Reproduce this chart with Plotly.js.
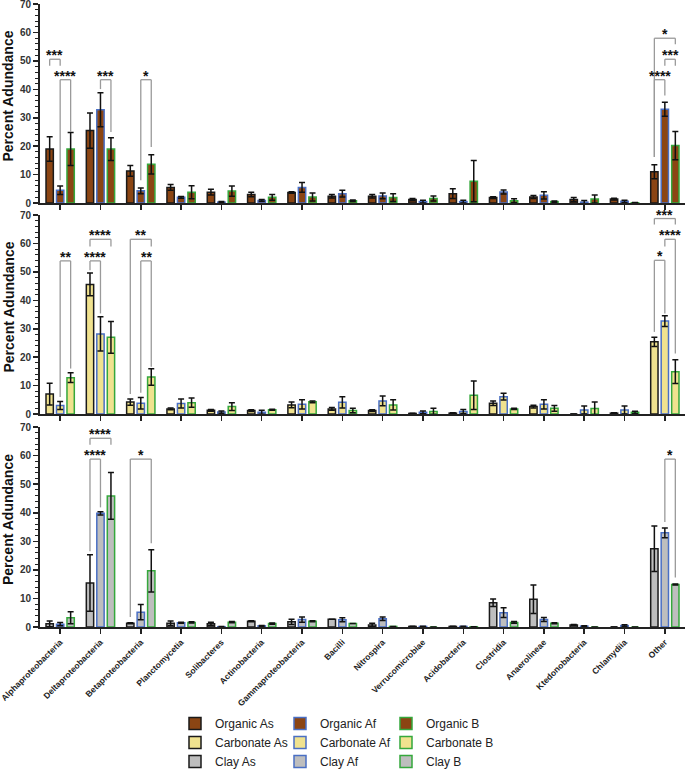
<!DOCTYPE html>
<html>
<head>
<meta charset="utf-8">
<script src="https://cdn.plot.ly/plotly-3.0.1.min.js"></script>
<style>
  body { margin: 0; background: #fff; }
  #chart { width: 685px; height: 771px; }
</style>
</head>
<body>
<div id="chart"></div>
<script>
var categories = ['Alphaproteobacteria', 'Deltaproteobacteria', 'Betaproteobacteria', 'Planctomycetia',
    'Solibacteres', 'Actinobacteria', 'Gammaproteobacteria', 'Bacilli', 'Nitrospira', 'Verrucomicrobiae',
    'Acidobacteria', 'Clostridia', 'Anaerolineae', 'Ktedonobacteria', 'Chlamydiia', 'Other'];

// Organic
var organicAs    = [19, 25.5, 11.3, 5.5, 3.8, 3.0, 3.7, 2.4, 2.4, 1.2, 3.3, 1.9, 2.1, 1.2, 1.4, 11.0];
var organicAsErr = [4.3, 6.2, 1.9, 1.0, 1.0, 0.8, 0.3, 0.6, 0.6, 0.4, 1.7, 0.3, 0.5, 0.7, 0.3, 2.5];
var organicAf    = [4.5, 32.8, 4.3, 2.0, 0.3, 0.9, 5.5, 3.3, 2.5, 0.5, 0.5, 3.9, 2.7, 0.3, 0.6, 33.0];
var organicAfErr = [1.5, 6.0, 1.0, 0.3, 0.2, 0.3, 1.7, 1.2, 1.0, 0.5, 0.5, 0.7, 1.3, 0.6, 0.4, 2.5];
var organicB     = [19, 19, 13.6, 3.8, 4.2, 2.0, 2.1, 0.8, 1.9, 1.6, 7.7, 0.8, 0.5, 1.4, 0.1, 20.2];
var organicBErr  = [5.8, 4.0, 3.4, 2.3, 1.8, 1.0, 1.4, 0.3, 1.4, 0.9, 7.3, 0.7, 0.2, 1.4, 0.1, 5.0];

// Carbonate
var carbonateAs    = [7.0, 45.6, 4.2, 1.8, 1.3, 1.2, 3.2, 1.8, 1.2, 0.2, 0.3, 3.8, 2.6, 0, 0.3, 25.4];
var carbonateAsErr = [3.8, 4.0, 1.1, 0.3, 0.3, 0.3, 1.0, 0.5, 0.3, 0.1, 0.1, 0.8, 0.5, 0, 0.1, 1.6];
var carbonateAf    = [3.0, 28.2, 3.8, 3.7, 0.7, 0.6, 3.4, 4.1, 4.6, 0.6, 0.9, 6.1, 3.4, 1.4, 1.4, 32.7];
var carbonateAfErr = [1.4, 6.0, 2.0, 1.6, 0.4, 0.7, 1.6, 2.0, 1.7, 0.5, 0.7, 1.2, 1.6, 1.4, 1.4, 1.9];
var carbonateB     = [12.8, 27.0, 13.0, 4.0, 2.6, 1.5, 4.3, 1.2, 3.2, 0.9, 6.6, 1.8, 2.0, 1.9, 0.6, 14.9];
var carbonateBErr  = [1.7, 5.6, 2.9, 1.6, 1.4, 0.2, 0.3, 0.8, 1.8, 1.1, 5.0, 0.2, 1.0, 2.3, 0.4, 4.2];

// Clay
var clayAs    = [1.1, 15.4, 1.3, 1.3, 1.1, 2.0, 1.8, 2.7, 0.7, 0.2, 0.2, 8.5, 9.7, 0.7, 0, 27.4];
var clayAsErr = [1.0, 9.9, 0.2, 0.8, 0.6, 0.2, 0.9, 0, 0.6, 0.05, 0.05, 1.3, 5.0, 0.2, 0, 8.0];
var clayAf    = [1.0, 39.8, 5.2, 1.5, 0.1, 0.4, 2.6, 2.5, 2.9, 0.2, 0.2, 5.0, 2.6, 0.3, 0.5, 33.0];
var clayAfErr = [0.6, 0.6, 2.7, 0.2, 0.05, 0.1, 0.9, 0.7, 0.6, 0.05, 0.05, 1.7, 0.7, 0.1, 0.3, 1.7];
var clayB     = [3.2, 45.9, 19.7, 1.6, 1.7, 1.2, 2.0, 1.2, 0.2, 0, 0.1, 1.6, 1.3, 0, 0, 14.9];
var clayBErr  = [2.1, 8.2, 7.4, 0.2, 0.2, 0.2, 0.2, 0, 0, 0, 0, 0.3, 0.2, 0, 0, 0.2];

// significance brackets: [category, bar a, bar b, bracket level, leg a end, leg b end, label]
var sigOrganic = [
    [0, 0, 1, 50.6, 48.3, 48.3, '***'],
    [0, 1, 2, 43.4, 8, 25, '****'],
    [1, 1, 2, 43.4, 40.1, 25, '***'],
    [2, 1, 2, 43.4, 8, 19.7, '*'],
    [15, 0, 2, 58, 16.2, 55.9, '*'],
    [15, 1, 2, 50.6, 48.3, 48.3, '***'],
    [15, 0, 1, 43.4, 16.2, 37.8, '****']
];
var sigCarbonate = [
    [0, 1, 2, 53.9, 6, 16, '**'],
    [1, 0, 1, 53.9, 50.6, 35.4, '****'],
    [1, 0, 2, 61.5, 59, 59, '****'],
    [2, 0, 2, 61.5, 7, 59, '**'],
    [2, 1, 2, 53.9, 7.5, 16.6, '**'],
    [15, 0, 2, 68.8, 66.7, 66.7, '***'],
    [15, 1, 2, 61.5, 59, 21.3, '****'],
    [15, 0, 1, 54.1, 28.9, 35.4, '*']
];
var sigClay = [
    [1, 0, 2, 66.1, 63.8, 63.8, '****'],
    [1, 0, 1, 58.8, 26.5, 41.9, '****'],
    [2, 0, 2, 58.8, 3.5, 29.3, '*'],
    [15, 1, 2, 58.8, 36.8, 17.3, '*']
];

var fillColors = ['#8B4513', '#F0E28F', '#BEBEBE'];
var lineColors = ['#1a1a1a', '#4A6FC4', '#35A83C'];
var soils = ['Organic', 'Carbonate', 'Clay'];
var horizons = ['As', 'Af', 'B'];
var values = [[organicAs, organicAf, organicB], [carbonateAs, carbonateAf, carbonateB], [clayAs, clayAf, clayB]];
var errors = [[organicAsErr, organicAfErr, organicBErr], [carbonateAsErr, carbonateAfErr, carbonateBErr],
    [clayAsErr, clayAfErr, clayBErr]];
var sigs = [sigOrganic, sigCarbonate, sigClay];

var font = 'Arial, "Liberation Sans", sans-serif';
var bargap = 0.22;
var slot = (1 - bargap) / 3;

// pixel layout of the three panels
var W = 685, H = 771;
var marginT = 4, marginB = 144, marginL = 40, marginR = 0;
var plotH = H - marginT - marginB;
var plotW = W - marginL - marginR;
var panelPx = [[4, 203], [215, 414], [427, 627]];

var data = [];
var shapes = [];
var annotations = [];
var layout = {
    width: W,
    height: H,
    margin: {l: marginL, r: marginR, t: marginT, b: marginB, autoexpand: false},
    paper_bgcolor: '#fff',
    plot_bgcolor: '#fff',
    barmode: 'group',
    bargap: bargap,
    bargroupgap: 0.3,
    font: {family: font, color: '#222'},
    showlegend: true
};

for (var p = 0; p < 3; p++) {
    var sfx = p === 0 ? '' : String(p + 1);
    for (var h = 0; h < 3; h++) {
        data.push({
            type: 'bar',
            x: categories,
            y: values[p][h],
            name: soils[p] + ' ' + horizons[h],
            xaxis: 'x' + sfx,
            yaxis: 'y' + sfx,
            legend: h === 0 ? 'legend' : 'legend' + (h + 1),
            marker: {color: fillColors[p], line: {color: lineColors[h], width: 1.5}},
            error_y: {type: 'data', array: errors[p][h], color: '#111', thickness: 1.5, width: 3}
        });
    }

    var pTop = panelPx[p][0], pBot = panelPx[p][1];
    var domain = [(H - marginB - pBot) / plotH, (H - marginB - pTop) / plotH];

    layout['xaxis' + sfx] = {
        domain: [0, 1],
        anchor: 'y' + sfx,
        type: 'category',
        range: [-0.5, 15.5],
        showline: true, linecolor: '#222', linewidth: 2,
        ticks: 'outside', ticklen: 5, tickwidth: 1.5, tickcolor: '#222',
        showticklabels: p === 2,
        tickangle: -45,
        tickfont: {family: font, size: 8.5, color: '#222', weight: 'bold'},
        showgrid: false, zeroline: false, fixedrange: true
    };
    layout['yaxis' + sfx] = {
        domain: domain,
        anchor: 'x' + sfx,
        range: [0, 70.05],
        tickvals: [0, 10, 20, 30, 40, 50, 60, 70],
        ticklabeloverflow: 'allow',
        showline: true, linecolor: '#222', linewidth: 2,
        ticks: 'outside', ticklen: 5, tickwidth: 1.5, tickcolor: '#222',
        minor: {dtick: 2, ticks: 'outside', ticklen: 3, tickwidth: 1, tickcolor: '#222'},
        tickfont: {family: font, size: 10, color: '#333', weight: 'bold'},
        showgrid: false, zeroline: false, fixedrange: true
    };

    // y title, placed a little above the panel centre as in the original
    annotations.push({
        xref: 'paper', yref: 'paper',
        x: (8 - marginL) / plotW, y: (H - marginB - ((pTop + pBot) / 2 - 7)) / plotH,
        xanchor: 'center', yanchor: 'middle', textangle: -90,
        text: 'Percent Adundance', showarrow: false,
        font: {family: font, size: 14, color: '#111', weight: 'bold'}
    });

    // significance brackets
    sigs[p].forEach(function (s) {
        var xa = s[0] + (s[1] - 1) * slot;
        var xb = s[0] + (s[2] - 1) * slot;
        var ln = {color: '#9a9a9a', width: 1.3};
        var ref = {xref: 'x' + sfx, yref: 'y' + sfx, type: 'line', line: ln};
        shapes.push(Object.assign({x0: xa, x1: xa, y0: s[4], y1: s[3]}, ref));
        shapes.push(Object.assign({x0: xa, x1: xb, y0: s[3], y1: s[3]}, ref));
        shapes.push(Object.assign({x0: xb, x1: xb, y0: s[3], y1: s[5]}, ref));
        annotations.push({
            xref: 'x' + sfx, yref: 'y' + sfx,
            x: (xa + xb) / 2, y: s[3],
            xanchor: 'center', yanchor: 'bottom', yshift: -6,
            text: s[6], showarrow: false,
            font: {family: font, size: 14, color: '#111', weight: 'bold'}
        });
    });
}

// three legend columns (As / Af / B)
var legendX = [175, 280, 386];
['legend', 'legend2', 'legend3'].forEach(function (key, i) {
    layout[key] = {
        x: (legendX[i] - marginL) / plotW,
        y: (H - marginB - 709) / plotH,
        xanchor: 'left', yanchor: 'top',
        orientation: 'v',
        bgcolor: 'rgba(0,0,0,0)',
        tracegroupgap: 0,
        font: {family: font, size: 12, color: '#222'}
    };
});

layout.shapes = shapes;
layout.annotations = annotations;

Plotly.newPlot('chart', data, layout, {displayModeBar: false, staticPlot: true});
</script>
</body>
</html>
